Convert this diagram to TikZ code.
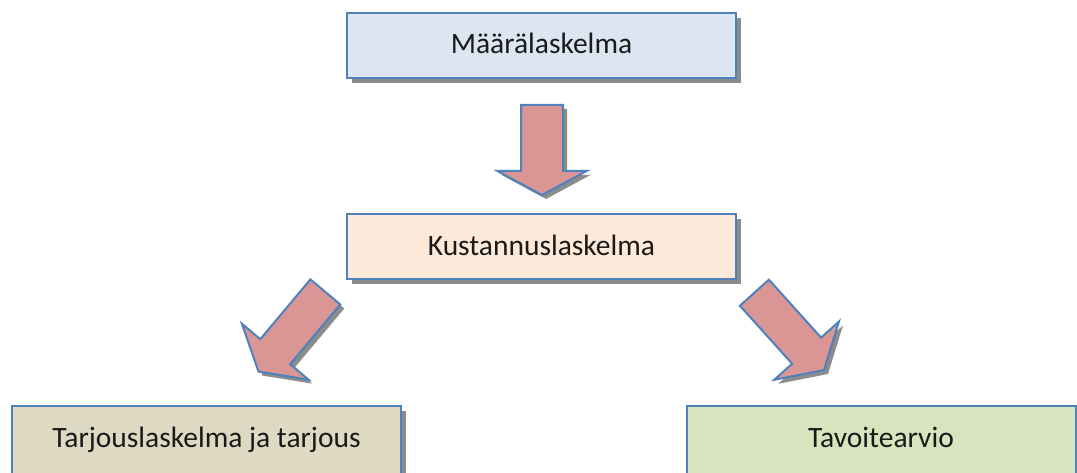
\documentclass[tikz,border=0pt]{standalone}
\usepackage{fontspec}
\setmainfont{Carlito}
\usetikzlibrary{shadows}
\definecolor{bordblue}{HTML}{4F81BD}
\definecolor{fillA}{HTML}{DCE6F2}
\definecolor{fillB}{HTML}{FDE9D9}
\definecolor{fillC}{HTML}{DDD9C3}
\definecolor{fillD}{HTML}{D7E4BD}
\definecolor{arrfill}{HTML}{D99694}
\definecolor{shadowcol}{HTML}{8C8C8C}
\definecolor{textcol}{HTML}{1A1A1A}
\newcommand\arrowpath[4]{(-#2,-#1) -- (#2,-#1) -- (#2,-#4) -- (#3,-#4) -- (0,0) -- (-#3,-#4) -- (-#2,-#4) -- cycle}
\begin{document}
\begin{tikzpicture}[x=1pt,y=-1pt,
  box/.style={draw=bordblue, line width=2pt, minimum width=389pt, minimum height=65pt,
    inner sep=0pt, text=textcol, font=\fontsize{29.5}{35}\selectfont,
    text height=21pt, text depth=4pt,
    drop shadow={shadow xshift=5pt, shadow yshift=-5pt, fill=shadowcol, opacity=1}},
  lowbox/.style={box, minimum height=72pt, text height=19pt, text depth=9pt},
  bigarr/.style={draw=bordblue, line width=2pt, fill=arrfill, line join=miter},
  arrshadow/.style={fill=shadowcol}]
\useasboundingbox (0,0) rectangle (1077,473);
\fill[white] (0,0) rectangle (1077,473);
\node[box, fill=fillA] (m) at (541.5,45.5) {Määrälaskelma};
\node[box, fill=fillB] (k) at (541.5,247) {Kustannuslaskelma};
\node[lowbox, fill=fillC] (t) at (206.5,442) {Tarjouslaskelma ja tarjous};
\node[lowbox, fill=fillD] (v) at (881,442) {Tavoitearvio};
% down arrow
\fill[arrshadow, shift={(546,199)}] \arrowpath{90}{21}{44.5}{24};
\draw[bigarr, shift={(542,195)}] \arrowpath{90}{21}{44.5}{24};
% left diagonal arrow
\fill[arrshadow, shift={(262.5,375.6)}, rotate=-40] \arrowpath{104}{19.5}{43.5}{26};
\draw[bigarr, shift={(258.5,371.6)}, rotate=-40] \arrowpath{104}{19.5}{43.5}{26};
% right diagonal arrow
\fill[arrshadow, shift={(828,374)}, rotate=42] \arrowpath{104}{19.5}{43.5}{26};
\draw[bigarr, shift={(824,370)}, rotate=42] \arrowpath{104}{19.5}{43.5}{26};
\end{tikzpicture}
\end{document}
